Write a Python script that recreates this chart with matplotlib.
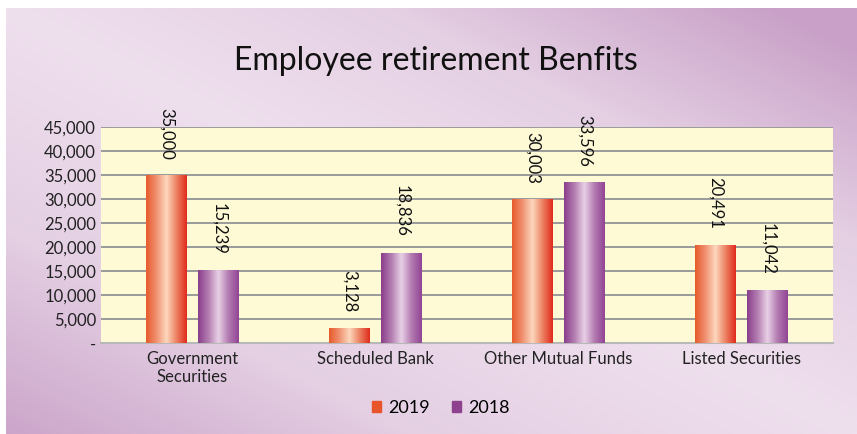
import numpy as np
import matplotlib
matplotlib.use("Agg")
import matplotlib.pyplot as plt
from matplotlib.colors import LinearSegmentedColormap
from matplotlib.ticker import FuncFormatter

categories = ["Government\nSecurities", "Scheduled Bank", "Other Mutual Funds", "Listed Securities"]
series_names = ["2019", "2018"]
values_2019 = [35000, 3128, 30003, 20491]
values_2018 = [15239, 18836, 33596, 11042]

plt.rcParams['font.family'] = ['Lato', 'DejaVu Sans']

fig = plt.figure(figsize=(8.57, 4.34), dpi=100)

# background with diagonal purple gradient
bg = fig.add_axes([6 / 857, 0, 851 / 857, 426 / 434])
bg.set_axis_off()
xx, yy = np.meshgrid(np.linspace(0, 1, 300), np.linspace(1, 0, 150))
d = xx + yy - 1.0
w = np.clip(np.where(d > 0, d * 1.1, -d * 0.95), 0, 1)
bg_cmap = LinearSegmentedColormap.from_list("bg", ["#efe0ee", "#e4cfe3", "#c9a1c8"])
bg.imshow(w, cmap=bg_cmap, aspect="auto", extent=[0, 1, 0, 1], vmin=0, vmax=1)
bg.set_xlim(0, 1)
bg.set_ylim(0, 1)

ax = fig.add_axes([101 / 857, 1 - 343 / 434, 732 / 857, 216 / 434])
ax.set_facecolor("#fefad6")

x = np.arange(len(categories))
width = 0.224
offset = 0.142

orange = LinearSegmentedColormap.from_list(
    "o", ["#e65a2a", "#f09070", "#fdd8bd", "#ec8062", "#e02a1c"])
purple = LinearSegmentedColormap.from_list(
    "p", ["#8a3e8c", "#b37cb0", "#e8d0e6", "#b27ab0", "#924494"])

grad = np.linspace(0, 1, 256).reshape(1, -1)


def gradient_bars(xs, vals, cmap):
    bars = ax.bar(xs, vals, width, color="none", zorder=3)
    for b in bars:
        x0, y0 = b.get_x(), b.get_y()
        im = ax.imshow(grad, cmap=cmap, aspect="auto", zorder=3,
                       extent=[x0, x0 + b.get_width(), y0, y0 + b.get_height()])
        im.set_clip_path(b)
    return bars


b1 = gradient_bars(x - offset, values_2019, orange)
b2 = gradient_bars(x + offset, values_2018, purple)

for bars, vals in [(b1, values_2019), (b2, values_2018)]:
    for b, v in zip(bars, vals):
        ax.annotate(f"{v:,}", (b.get_x() + b.get_width() / 2, v),
                    xytext=(0, 11), textcoords="offset points",
                    rotation=270, ha="center", va="bottom", fontsize=12,
                    color="#111111", annotation_clip=False, zorder=5)

ax.set_xlim(-0.5, len(categories) - 0.5)
ax.set_ylim(0, 45000)
ax.set_yticks(np.arange(0, 45001, 5000))
ax.yaxis.set_major_formatter(FuncFormatter(lambda v, p: "-" if v == 0 else f"{int(v):,}"))
ax.grid(axis="y", color="#9a9a9a", linewidth=1.4, zorder=1)
ax.set_axisbelow(True)
for s in ["top", "right", "left"]:
    ax.spines[s].set_visible(False)
ax.spines["bottom"].set_color("#b8b8b8")
ax.spines["bottom"].set_linewidth(1.5)
ax.tick_params(axis="both", length=0, labelsize=12, colors="#222222")
ax.tick_params(axis="x", pad=6)
ax.set_xticks(x)
ax.set_xticklabels(categories, linespacing=1.1)

fig.text(436 / 857, 1 - 61 / 434, "Employee retirement Benfits", ha="center", va="center",
         fontsize=23, color="#111111")

handles = [plt.Rectangle((0, 0), 1, 1, color="#e8552a"),
           plt.Rectangle((0, 0), 1, 1, color="#8e428e")]
fig.legend(handles, series_names, loc="center", bbox_to_anchor=(441 / 857, 1 - 408 / 434),
           ncol=2, frameon=False, fontsize=13, handlelength=0.5, handleheight=0.5,
           handletextpad=0.4, columnspacing=1.2)

fig.savefig("out.png", dpi=100)
